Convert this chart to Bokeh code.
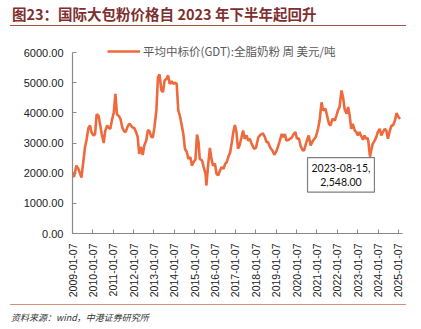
import pandas as pd
from bokeh.plotting import figure
from bokeh.layouts import column
from bokeh.models import (Range1d, FixedTicker, Label, Legend, LegendItem, Div,
                          NumeralTickFormatter, DatetimeTickFormatter, ColumnDataSource)
from bokeh.embed import file_html
from bokeh.resources import INLINE
from math import pi

title_text = "图23：国际大包粉价格自 2023 年下半年起回升"
legend_text = "平均中标价(GDT):全脂奶粉 周 美元/吨"
source_text = "资料来源：wind，中港证券研究所"

dates = [
    "2009-01-07", "2009-02-03", "2009-03-17", "2009-04-21", "2009-06-16", "2009-07-21", "2009-08-18",
    "2009-09-15", "2009-10-20", "2009-11-17", "2009-12-15", "2010-01-19", "2010-02-16", "2010-03-16",
    "2010-04-20", "2010-05-18", "2010-06-15", "2010-07-20", "2010-08-17", "2010-09-21", "2010-10-19",
    "2010-11-16", "2010-12-14", "2011-01-18", "2011-02-15", "2011-03-15", "2011-04-19", "2011-05-17",
    "2011-06-21", "2011-07-19", "2011-08-16", "2011-09-20", "2011-10-18", "2011-11-15", "2011-12-13",
    "2012-01-17", "2012-02-21", "2012-03-20", "2012-04-17", "2012-05-15", "2012-06-19", "2012-07-17",
    "2012-08-21", "2012-09-18", "2012-10-16", "2012-11-20", "2012-12-18", "2013-01-15", "2013-02-19",
    "2013-03-19", "2013-04-16", "2013-05-21", "2013-06-18", "2013-07-16", "2013-08-20", "2013-09-17",
    "2013-10-15", "2013-11-19", "2013-12-17", "2014-01-21", "2014-02-18", "2014-03-18", "2014-04-15",
    "2014-05-20", "2014-06-17", "2014-07-15", "2014-08-19", "2014-09-16", "2014-10-21", "2014-11-18",
    "2014-12-16", "2015-01-20", "2015-02-17", "2015-03-17", "2015-04-07", "2015-05-19", "2015-06-16",
    "2015-07-21", "2015-08-04", "2015-09-01", "2015-10-06", "2015-11-03", "2015-12-01", "2016-01-05",
    "2016-02-02", "2016-03-01", "2016-04-05", "2016-05-03", "2016-06-07", "2016-07-05", "2016-08-02",
    "2016-08-30", "2016-10-04", "2016-10-31", "2016-11-29", "2016-12-27", "2017-01-24", "2017-02-21",
    "2017-03-21", "2017-04-25", "2017-05-23", "2017-06-20", "2017-07-25", "2017-08-22", "2017-09-19",
    "2017-10-24", "2017-12-05", "2018-01-09", "2018-02-20", "2018-04-03", "2018-05-15", "2018-06-19",
    "2018-07-17", "2018-08-14", "2018-09-18", "2018-10-30", "2018-12-04", "2019-01-15", "2019-03-05",
    "2019-04-16", "2019-05-14", "2019-06-11", "2019-07-09", "2019-08-20", "2019-10-08", "2019-11-19",
    "2019-12-17", "2020-01-14", "2020-02-18", "2020-03-17", "2020-04-21", "2020-05-19", "2020-07-01",
    "2020-08-11", "2020-09-15", "2020-10-27", "2020-12-15", "2021-01-26", "2021-02-23", "2021-03-30",
    "2021-04-27", "2021-06-08", "2021-07-06", "2021-08-10", "2021-09-07", "2021-10-12", "2021-11-23",
    "2021-12-21", "2022-01-18", "2022-02-15", "2022-03-22", "2022-04-19", "2022-05-17", "2022-06-21",
    "2022-07-19", "2022-08-16", "2022-09-13", "2022-10-11", "2022-11-15", "2022-12-13", "2023-01-10",
    "2023-02-07", "2023-03-07", "2023-04-11", "2023-05-09", "2023-06-06", "2023-07-04", "2023-07-18",
    "2023-08-15", "2023-09-05", "2023-10-03", "2023-11-07", "2023-12-05", "2024-01-02", "2024-02-06",
    "2024-03-05", "2024-04-02", "2024-05-07", "2024-06-04", "2024-07-02", "2024-08-06", "2024-09-03",
    "2024-10-01", "2024-11-05", "2024-12-03", "2025-01-07", "2025-02-04",
]
prices = [
    2030, 1870, 2250, 2150, 1850, 2400, 2850,
    3100, 3500, 3580, 3350, 3250, 3300, 3950,
    3900, 3600, 3300, 3000, 3400, 3580, 3500,
    3470, 3750, 4020, 4630, 3950, 3890, 3800,
    3500, 3400, 3360, 3530, 3640, 3600, 3520,
    3500, 3360, 3200, 2640, 2870, 2600, 2920,
    3080, 3420, 3400, 3200, 3190, 3525, 4080,
    5180, 5270, 4740, 4690, 5070, 5130, 5240,
    4960, 5050, 4960, 5000, 4960, 4080, 3910,
    3580, 3300, 2810, 2700, 2475, 2530, 2250,
    2360, 2450, 3280, 3030, 2475, 2420, 2200,
    1980, 1590, 2200, 2840, 2475, 2250, 2310,
    1980, 1925, 2090, 2200, 2145, 2310, 2360,
    2530, 2695, 3000, 3360, 3600, 3360, 2810,
    2920, 3190, 3414, 3140, 3250, 3080, 3140,
    2970, 2810, 2840, 3190, 3280, 3320, 3190,
    3030, 3030, 2860, 2750, 2610, 2750, 3030,
    3300, 3190, 3300, 3080, 3110, 3170, 3300,
    3360, 3140, 3160, 2920, 2770, 2750, 3030,
    3250, 2920, 3080, 3190, 3470, 3745, 4350,
    4080, 4130, 3910, 3635, 3580, 3800, 3745,
    3910, 4080, 4190, 4740, 4520, 4130, 3970,
    4190, 3910, 3470, 3635, 3414, 3360, 3250,
    3360, 3250, 3110, 3250, 3140, 3170, 3030,
    2548, 2750, 2970, 3080, 3190, 3360, 3470,
    3250, 3360, 3470, 3414, 3140, 3414, 3580,
    3580, 3745, 3990, 3860, 3800,
]
tick_labels = ["2009-01-07", "2010-01-07", "2011-01-07", "2012-01-07", "2013-01-07", "2014-01-07",
               "2015-01-07", "2016-01-07", "2017-01-07", "2018-01-07", "2019-01-07", "2020-01-07",
               "2021-01-07", "2022-01-07", "2023-01-07", "2024-01-07", "2025-01-07"]
y_ticks = [0, 1000, 2000, 3000, 4000, 5000, 6000]
y_max_tick = 6000
note_date = "2023-08-15"
note_value = 2548.00
x_start, x_end = "2009-01-07", "2025-03-20"

W = 421
TITLE_H, FIG_H, SRC_H = 28, 274, 27
HEAD = 10                    # px of headroom above the 6000 tick
L, R, T, B = 72, 19, 24 - HEAD, 69
FH = FIG_H - T - B
Y_TOP = y_max_tick * FH / (FH - HEAD)

LINE_COLOR = "#EE6A3C"
LATIN = "Liberation Sans"
CJK = "Noto Sans CJK SC"

src = ColumnDataSource(dict(date=pd.to_datetime(dates), price=prices))

p = figure(width=W, height=FIG_H, x_axis_type="datetime", output_backend="svg", toolbar_location=None,
           x_range=Range1d(pd.Timestamp(x_start), pd.Timestamp(x_end)), y_range=Range1d(0, Y_TOP),
           min_border_left=L, min_border_right=R, min_border_top=T, min_border_bottom=B)
p.outline_line_color = None
p.xgrid.visible = False
p.ygrid.visible = False
p.background_fill_color = "white"
p.border_fill_color = "white"

r = p.line(x="date", y="price", source=src, line_color=LINE_COLOR, line_width=2.6)

tick_ms = [pd.Timestamp(t).value / 1e6 for t in tick_labels]
xa = p.xaxis[0]
xa.ticker = FixedTicker(ticks=tick_ms)
fmt = "%Y-%m-%d"
xa.formatter = DatetimeTickFormatter(microseconds=fmt, milliseconds=fmt, seconds=fmt, minsec=fmt,
                                     minutes=fmt, hourmin=fmt, hours=fmt, days=fmt, months=fmt, years=fmt)
xa.major_label_orientation = pi / 2
xa.major_label_standoff = 10
xa.major_label_text_font_size = "10.5px"
ya = p.yaxis[0]
ya.ticker = FixedTicker(ticks=y_ticks)
ya.formatter = NumeralTickFormatter(format="0.00")
ya.bounds = (0, y_max_tick)
ya.major_label_standoff = 9
ya.major_label_text_font_size = "11px"

for ax in (xa, ya):
    ax.axis_line_color = "#8a8a8a"
    ax.axis_line_width = 1.2
    ax.major_tick_line_color = "#8a8a8a"
    ax.major_tick_in = 4
    ax.major_tick_out = 0
    ax.minor_tick_line_color = None
    ax.major_label_text_font = LATIN
    ax.major_label_text_color = "#222222"

legend = Legend(items=[LegendItem(label=legend_text, renderers=[r])], location=(35, FH - HEAD - 7),
                orientation="horizontal", padding=0, margin=0, spacing=0, glyph_width=33, glyph_height=14,
                label_standoff=3, label_height=14, label_text_font=CJK, label_text_font_size="11.5px",
                label_text_color="#595959", background_fill_alpha=0, border_line_color=None)
p.add_layout(legend)

# annotation callout at the minimum
p.add_layout(Label(x=pd.Timestamp(note_date), y=note_value,
                   text=f"{note_date},\n{note_value:,.2f}",
                   x_offset=-29, y_offset=-1, text_align="center", text_baseline="top",
                   text_font="Lato", text_font_size="10.5px", text_color="#111111",
                   border_line_color="#7f7f7f", border_line_width=1.2,
                   background_fill_color="white", padding=4))

title_div = Div(
    width=W, height=TITLE_H,
    text=(f'<div style="position:relative;width:396px;height:26px;margin-left:10px;'
          f'border-bottom:1.2px solid #A5533E;">'
          f'<span style="position:absolute;left:2px;top:5px;white-space:nowrap;'
          f'font-family:\'{CJK}\';font-weight:bold;font-size:14.5px;line-height:18px;color:#7E2F2F;">'
          f'{title_text}</span></div>'),
    styles={"margin": "0", "padding": "0"})

src_div = Div(
    width=W, height=SRC_H,
    text=(f'<div style="position:relative;width:396px;height:25px;margin-left:10px;margin-top:2px;'
          f'border-top:1.2px solid #D9907A;">'
          f'<span style="position:absolute;left:1px;top:7px;white-space:nowrap;'
          f'font-family:\'{CJK}\';font-style:italic;font-size:9px;line-height:12px;color:#333333;">'
          f'{source_text}</span></div>'),
    styles={"margin": "0", "padding": "0"})

layout = column(title_div, p, src_div, spacing=0)
open("out.html", "w").write(file_html(layout, INLINE))
